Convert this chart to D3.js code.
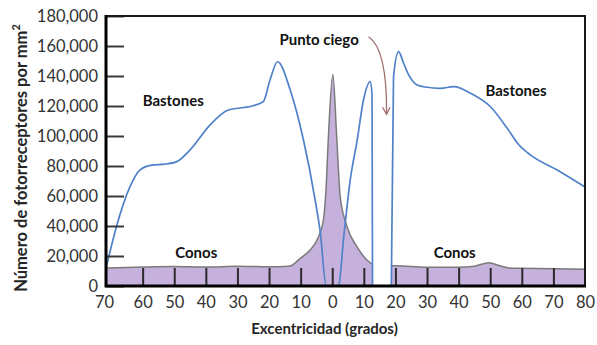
<!DOCTYPE html>
<html>
<head>
<meta charset="utf-8">
<script src="https://cdn.jsdelivr.net/npm/d3@7"></script>
<style>
  body { margin: 0; background: #fff; }
  text { font-family: Lato, "Open Sans", sans-serif; }
</style>
</head>
<body>
<div id="chart"></div>
<script>
// eccentricity in degrees (negative = temporal side, shown as absolute value)
var rodDeg = [-71.6, -68.3, -64, -60.9, -56.7, -53, -49.2, -45, -38.7, -32.9, -28, -25, -21.8, -19.7, -17.3, -13.3, -9.1, -5.4, -3.8, -1.9,
              1.9, 3.8, 5.7, 7.9, 9.9, 12, 12.6, 12.75, 15, 18.7, 19.4, 21, 22.5, 24.2, 26.9, 30, 34.2, 38.5, 43.8, 50.1, 55.4, 59.1, 62.8, 71.2, 80];
var rodVal = [11800, 39500, 66200, 77300, 80700, 81200, 82900, 90700, 107300, 117300, 119000, 120200, 122900, 137300, 149500, 130700, 97300, 57300, 36200, 0,
              0, 36000, 70700, 97300, 124000, 136200, 128000, 0, null, 0, 139500, 156200, 149000, 140700, 134000, 132500, 131800, 132900, 128500, 119500, 105100, 94000, 87300, 77300, 66000];

var coneDeg = [-71.6, -65, -60, -50, -40, -30, -20, -15, -13.3, -10.1, -7, -4.3, -2.8, -2, -1.2, 0.2, 1.4, 2.5, 4.7, 7.8, 11, 12.7,
               15, 18.7, 20, 30, 40, 45, 49.6, 53, 56, 60, 70, 80];
var coneVal = [12000, 12300, 12600, 13000, 12600, 13200, 12800, 13000, 13300, 18500, 24000, 33000, 44000, 63000, 100000, 141000, 100000, 60000, 39500, 26200, 17300, 14500,
               null, 13500, 13500, 12500, 12500, 13200, 15500, 13500, 12000, 11800, 11500, 11200];

var xTicks = [-70, -60, -50, -40, -30, -20, -10, 0, 10, 20, 30, 40, 50, 60, 70, 80];
var yTicks = [0, 20000, 40000, 60000, 80000, 100000, 120000, 140000, 160000, 180000];

(function() {
    var width = 597, height = 345;
    var pl = 106, pr = 585, pt = 16, pb = 286;

    var svg = d3.select("#chart").append("svg")
        .attr("width", width)
        .attr("height", height);

    var x = d3.scaleLinear().domain([-71.6, 80]).range([pl, pr]);
    var y = d3.scaleLinear().domain([0, 180000]).range([pb, pt]);

    var rods = rodDeg.map(function(d, i) { return {d: d, v: rodVal[i]}; });
    var cones = coneDeg.map(function(d, i) { return {d: d, v: coneVal[i]}; });

    var coneArea = d3.area()
        .defined(function(p) { return p.v !== null; })
        .x(function(p) { return x(p.d); })
        .y0(y(0))
        .y1(function(p) { return y(p.v); })
        .curve(d3.curveMonotoneX);

    var line = d3.line()
        .defined(function(p) { return p.v !== null; })
        .x(function(p) { return x(p.d); })
        .y(function(p) { return y(p.v); })
        .curve(d3.curveMonotoneX);

    svg.append("path")
        .datum(cones)
        .attr("d", coneArea)
        .attr("fill", "#c6b1dd");

    svg.append("path")
        .datum(cones)
        .attr("d", line)
        .attr("fill", "none")
        .attr("stroke", "#7a7a7a")
        .attr("stroke-width", 1.5);

    svg.append("path")
        .datum(rods)
        .attr("d", line)
        .attr("fill", "none")
        .attr("stroke", "#4f81c8")
        .attr("stroke-width", 1.7);

    // axes, ticks point inward
    var yAxis = svg.append("g")
        .attr("transform", "translate(" + pl + ",0)")
        .call(d3.axisLeft(y).tickValues(yTicks).tickSizeInner(-18).tickSizeOuter(0).tickPadding(8).tickFormat(d3.format(",")));
    yAxis.select(".domain").remove();
    yAxis.selectAll("line").attr("stroke", "#3a3a3a").attr("stroke-width", 2);
    yAxis.selectAll("text").attr("font-size", 16.5).attr("fill", "#333");

    var xAxis = svg.append("g")
        .attr("transform", "translate(0," + pb + ")")
        .call(d3.axisBottom(x).tickValues(xTicks).tickSizeInner(-18).tickSizeOuter(0).tickPadding(10).tickFormat(function(d) { return Math.abs(d); }));
    xAxis.select(".domain").remove();
    xAxis.selectAll("line").attr("stroke", "#2a2a2a").attr("stroke-width", 2)
        .filter(function(d) { return d === -70 || d === 80; }).remove();
    xAxis.selectAll("text").attr("font-size", 16.5).attr("fill", "#333");
    xAxis.selectAll(".tick").filter(function(d) { return d === -70; })
        .select("text").attr("x", x(-71.6) - x(-70) - 2);

    // frame
    svg.append("path")
        .attr("d", "M" + pl + "," + pt + "H" + pr + "V" + pb)
        .attr("fill", "none")
        .attr("stroke", "#1a1a1a")
        .attr("stroke-width", 2);
    svg.append("path")
        .attr("d", "M" + pl + "," + (pt - 1) + "V" + pb + "H" + (pr + 1))
        .attr("fill", "none")
        .attr("stroke", "#000")
        .attr("stroke-width", 3);

    // axis titles
    svg.append("text")
        .attr("x", (pl + pr) / 2 - 21)
        .attr("y", 334)
        .attr("text-anchor", "middle")
        .attr("font-size", 15)
        .attr("font-weight", "bold")
        .attr("fill", "#262626")
        .text("Excentricidad (grados)");

    var yt = svg.append("text")
        .attr("transform", "translate(26.5,158) rotate(-90)")
        .attr("text-anchor", "middle")
        .attr("font-size", 16.5)
        .attr("font-weight", "bold")
        .attr("fill", "#262626");
    yt.append("tspan").text("Número de fotorreceptores por mm");
    yt.append("tspan").attr("dy", -7).attr("font-size", 11).text("2");

    // labels
    function label(t, d, v) {
        svg.append("text")
            .attr("x", x(d))
            .attr("y", y(v))
            .attr("font-size", 15)
            .attr("font-weight", "bold")
            .attr("fill", "#111")
            .text(t);
    }
    label("Bastones", -60, 120000);
    label("Bastones", 48.5, 127000);
    label("Conos", -49.7, 18500);
    label("Conos", 32.1, 18500);
    label("Punto ciego", -16.7, 160700);

    // arrow to the blind spot
    var ax0 = x(11.5), ay0 = y(166200), ax1 = x(17.2), ay1 = y(114500);
    svg.append("path")
        .attr("d", "M" + ax0 + "," + ay0 + "Q" + x(17.4) + "," + y(158000) + " " + ax1 + "," + ay1)
        .attr("fill", "none")
        .attr("stroke", "#a0706f")
        .attr("stroke-width", 1.3);
    svg.append("path")
        .attr("d", "M" + (ax1 - 4) + "," + (ay1 - 7) + "L" + ax1 + "," + ay1 + "L" + (ax1 + 3.5) + "," + (ay1 - 7))
        .attr("fill", "none")
        .attr("stroke", "#a0706f")
        .attr("stroke-width", 1.3);
})();
</script>
</body>
</html>
